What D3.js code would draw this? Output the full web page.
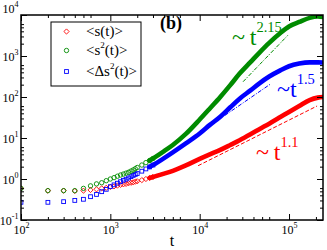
<!DOCTYPE html>
<html>
<head>
<meta charset="utf-8">
<script src="https://cdn.jsdelivr.net/npm/d3@7"></script>
<style>
  body { margin: 0; background: #fff; }
  svg { display: block; font-family: "Liberation Serif", "Times New Roman", serif; }
</style>
</head>
<body>
<svg id="chart" width="327" height="250"></svg>
<script>
// time points and the three averages
const times = [100, 200, 300, 400, 500, 600, 700, 800, 900, 1000,
  1100, 1200, 1300, 1400, 1500, 1600, 1700, 1800, 1900, 2000,
  2250, 2500, 2750, 3000,
  4000, 5000, 7000, 10000, 13000, 17000, 22000, 28000, 37000, 47000,
  60000, 80000, 100000, 130000, 170000, 210000, 240000];
const sMean = [0.59, 0.52, 0.52, 0.51, 0.52, 0.54, 0.56, 0.59, 0.61, 0.64,
  0.66, 0.69, 0.72, 0.74, 0.76, 0.79, 0.81, 0.83, 0.86, 0.88,
  0.94, 1.0, 1.06, 1.12,
  1.35, 1.58, 2.14, 3.09, 3.98, 5.13, 6.76, 8.81, 12.3, 16.6,
  22.4, 32.4, 43.2, 60.3, 84.1, 96.6, 100];
const s2Mean = [0.59, 0.52, 0.52, 0.52, 0.59, 0.68, 0.76, 0.81, 0.91, 1.0,
  1.08, 1.17, 1.25, 1.32, 1.39, 1.46, 1.56, 1.66, 1.78, 1.91,
  2.19, 2.51, 2.82, 3.16,
  4.79, 6.76, 12.6, 28.2, 52.5, 100, 195, 372, 708, 1230,
  2090, 3630, 5250, 6760, 8510, 9180, 8910];
const ds2Mean = [0.27, 0.27, 0.28, 0.30, 0.32, 0.37, 0.42, 0.49, 0.56, 0.65,
  0.72, 0.79, 0.86, 0.93, 0.99, 1.06, 1.14, 1.22, 1.29, 1.36,
  1.55, 1.76, 1.97, 2.19,
  3.24, 4.47, 7.41, 12.9, 20.9, 33.1, 56.2, 91.2, 145, 219,
  316, 447, 562, 653, 700, 700, 692];

// power-law guide lines, end points [t, value]
const guideS = [[9600, 2.11], [206000, 60.3]];
const guideDs2 = [[19200, 35.7], [61400, 204]];
const guideS2 = [[30600, 236], [97700, 3250]];

const xTickExp = [2, 3, 4, 5];
const yTickExp = [-1, 0, 1, 2, 3, 4];
const minorMult = [2, 3, 4, 5, 6];

const legendLabels = ["<s(t)>", "<s", "<\u0394s"];

const red = "#ff0000", green = "#008b00", blue = "#0000ff";

const svg = d3.select("#chart");
const m = { left: 21, right: 323, top: 15, bottom: 220 };

const x = d3.scaleLog().domain([100, 240000]).range([m.left, m.right]);
const y = d3.scaleLog().domain([0.1, 10000]).range([m.bottom, m.top]);

const xMajor = xTickExp.map(e => Math.pow(10, e));
const yMajor = yTickExp.map(e => Math.pow(10, e));
const xMinor = [], yMinor = [];
[2, 3, 4, 5].forEach(e => minorMult.forEach(k => {
  const v = k * Math.pow(10, e);
  if (v < 240000) xMinor.push(v);
}));
[-1, 0, 1, 2, 3].forEach(e => minorMult.forEach(k => yMinor.push(k * Math.pow(10, e))));

// clip for data
svg.append("clipPath").attr("id", "clip")
  .append("rect").attr("x", m.left).attr("y", m.top)
  .attr("width", m.right - m.left).attr("height", m.bottom - m.top);

const plot = svg.append("g").attr("clip-path", "url(#clip)");

// guide lines
const guideLine = d3.line().x(d => x(d[0])).y(d => y(d[1]));
plot.append("path").attr("d", guideLine(guideS))
  .attr("fill", "none").attr("stroke", red).attr("stroke-width", 1)
  .attr("stroke-dasharray", "4,2");
plot.append("path").attr("d", guideLine(guideDs2))
  .attr("fill", "none").attr("stroke", blue).attr("stroke-width", 1)
  .attr("stroke-dasharray", "4,1.5,1,1.5");
plot.append("path").attr("d", guideLine(guideS2))
  .attr("fill", "none").attr("stroke", green).attr("stroke-width", 1)
  .attr("stroke-dasharray", "4,1.5,1,1.5");

const series = [
  { vals: sMean, color: red, shape: "diamond" },
  { vals: ds2Mean, color: blue, shape: "square" },
  { vals: s2Mean, color: green, shape: "circle" }
];

const band = d3.line()
  .x(d => x(d[0])).y(d => y(d[1]))
  .curve(d3.curveMonotoneX);

function marker(g, shape, color) {
  if (shape === "circle") {
    g.append("circle").attr("r", 2.2);
  } else if (shape === "square") {
    g.append("rect").attr("x", -1.9).attr("y", -1.9).attr("width", 3.8).attr("height", 3.8);
  } else {
    g.append("path").attr("d", "M0,-2.6L2.6,0L0,2.6L-2.6,0Z");
  }
  g.attr("fill", "none").attr("stroke", color).attr("stroke-width", 0.9);
}

series.forEach(s => {
  const pts = times.map((t, i) => [t, s.vals[i]]);
  plot.append("path")
    .attr("d", band(pts.filter(p => p[0] >= 2750)))
    .attr("fill", "none").attr("stroke", s.color)
    .attr("stroke-width", 4.6).attr("stroke-linecap", "round");
  pts.filter(p => p[0] <= 3000).forEach(p => {
    const g = plot.append("g").attr("transform", `translate(${x(p[0])},${y(p[1])})`);
    marker(g, s.shape, s.color);
  });
});

// axes, ticks pointing inward
function supLabels(sel, supDy) {
  sel.selectAll(".tick text").each(function (d) {
    const e = Math.round(Math.log10(d));
    const t = d3.select(this);
    t.text(null);
    t.append("tspan").text("10");
    t.append("tspan").attr("dy", supDy).attr("font-size", "8px").text(e);
  });
}

const gx = svg.append("g").attr("transform", `translate(0,${m.bottom})`)
  .call(d3.axisBottom(x).tickValues(xMajor).tickSize(-6).tickPadding(0).tickFormat(d => d));
gx.selectAll(".tick text").attr("y", 14).attr("dy", null).attr("font-size", "12px")
  .attr("font-family", "Liberation Serif");
supLabels(gx, -6);
svg.append("g").attr("transform", `translate(0,${m.bottom})`)
  .call(d3.axisBottom(x).tickValues(xMinor).tickSize(-3).tickFormat(""));

svg.append("g").attr("transform", `translate(0,${m.top})`)
  .call(d3.axisTop(x).tickValues(xMajor).tickSize(-6).tickFormat(""));
svg.append("g").attr("transform", `translate(0,${m.top})`)
  .call(d3.axisTop(x).tickValues(xMinor).tickSize(-3).tickFormat(""));

const gy = svg.append("g").attr("transform", `translate(${m.left},0)`)
  .call(d3.axisLeft(y).tickValues(yMajor).tickSize(-6).tickPadding(2.5).tickFormat(d => d));
gy.selectAll(".tick text").attr("dy", null).attr("font-size", "12px")
  .attr("font-family", "Liberation Serif")
  .attr("y", d => d >= 10000 ? -3 : 4);
supLabels(gy, -6);
svg.append("g").attr("transform", `translate(${m.left},0)`)
  .call(d3.axisLeft(y).tickValues(yMinor).tickSize(-3).tickFormat(""));

svg.append("g").attr("transform", `translate(${m.right},0)`)
  .call(d3.axisRight(y).tickValues(yMajor).tickSize(-6).tickFormat(""));
svg.append("g").attr("transform", `translate(${m.right},0)`)
  .call(d3.axisRight(y).tickValues(yMinor).tickSize(-3).tickFormat(""));

svg.selectAll(".domain").remove();
svg.selectAll(".tick line").attr("stroke", "#000").attr("stroke-width", 1);

svg.append("rect").attr("x", m.left).attr("y", m.top)
  .attr("width", m.right - m.left).attr("height", m.bottom - m.top)
  .attr("fill", "none").attr("stroke", "#000").attr("stroke-width", 1.5);

// axis title
svg.append("text").attr("x", 172).attr("y", 246)
  .attr("text-anchor", "middle").attr("font-size", "16px").text("t");

// legend
const lg = svg.append("g");
lg.append("rect").attr("x", 51).attr("y", 22).attr("width", 90).attr("height", 64)
  .attr("fill", "#fff").attr("stroke", "#000").attr("stroke-width", 1);
const rows = [
  { shape: "diamond", color: red, y: 31.5 },
  { shape: "circle", color: green, y: 50.5 },
  { shape: "square", color: blue, y: 71.5 }
];
rows.forEach((r, i) => {
  marker(lg.append("g").attr("transform", `translate(66.5,${r.y})`), r.shape, r.color);
  const t = lg.append("text").attr("x", 86).attr("y", r.y + 4.5).attr("font-size", "15px");
  if (i === 0) {
    t.text(legendLabels[0]);
  } else {
    t.append("tspan").text(legendLabels[i]);
    t.append("tspan").attr("dy", -7).attr("font-size", "9px").text("2");
    t.append("tspan").attr("dy", 7).text("(t)>");
  }
});

// panel tag
svg.append("text").attr("x", 160).attr("y", 29)
  .attr("font-size", "18px").attr("font-weight", "bold").text("(b)");

// exponent annotations
function powerLabel(tx, ty, lead, exp, color) {
  const t = svg.append("text").attr("x", tx).attr("y", ty)
    .attr("font-size", "24px").attr("fill", color);
  t.append("tspan").text(lead);
  t.append("tspan").attr("dy", -13).attr("font-size", "14.5px").text(exp);
}
powerLabel(232, 45, "~\u2009t", "2.15", green);
powerLabel(277, 97, "~t", "1.5", blue);
powerLabel(256, 160, "~\u2009t", "1.1", red);
</script>
</body>
</html>
